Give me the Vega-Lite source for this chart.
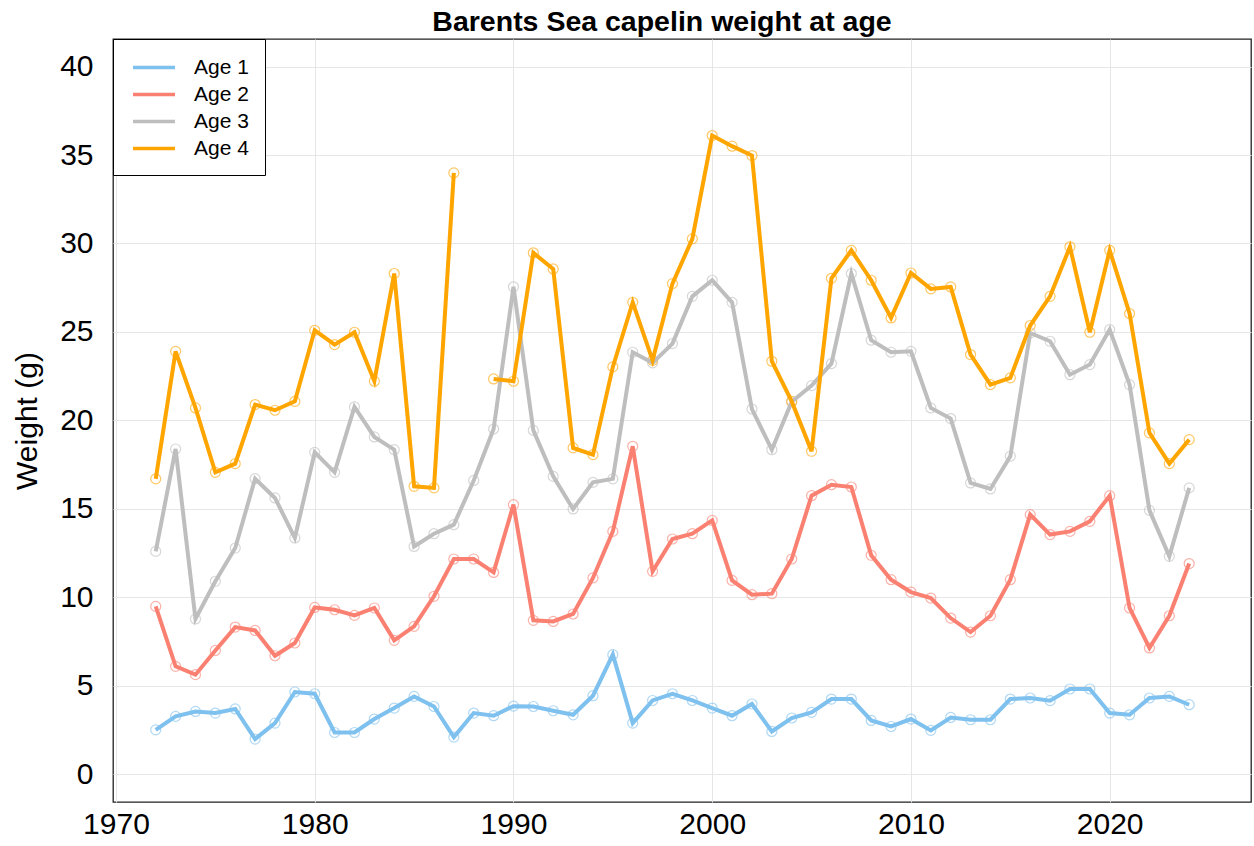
{
  "$schema": "https://vega.github.io/schema/vega-lite/v6.json",
  "width": 1138,
  "height": 763,
  "autosize": {"type": "none"},
  "padding": {"left": 113, "top": 39, "right": 3, "bottom": 44},
  "background": "white",
  "title": {
    "text": "Barents Sea capelin weight at age",
    "font": "Liberation Sans",
    "fontSize": 28.5,
    "fontWeight": "bold",
    "color": "black",
    "frame": "group",
    "offset": 2,
    "dx": -20
  },
  "config": {
    "view": {"stroke": "#222222", "strokeWidth": 1.3},
    "axis": {
      "labelFont": "Liberation Sans",
      "labelFontSize": 30,
      "labelColor": "black",
      "titleFont": "Liberation Sans",
      "titleFontSize": 30,
      "titleFontWeight": "normal",
      "titleColor": "black",
      "gridColor": "#e6e6e6",
      "gridWidth": 1,
      "ticks": false,
      "domain": false,
      "labelFlush": false
    },
    "legend": {"symbolOpacity": 1}
  },
  "data": {
    "values": [
      {"year": 1972, "Age 1": 2.50, "Age 2": 9.48, "Age 3": 12.59, "Age 4": 16.69},
      {"year": 1973, "Age 1": 3.26, "Age 2": 6.09, "Age 3": 18.38, "Age 4": 23.90},
      {"year": 1974, "Age 1": 3.54, "Age 2": 5.62, "Age 3": 8.77, "Age 4": 20.70},
      {"year": 1975, "Age 1": 3.45, "Age 2": 6.99, "Age 3": 10.90, "Age 4": 17.06},
      {"year": 1976, "Age 1": 3.68, "Age 2": 8.31, "Age 3": 12.78, "Age 4": 17.55},
      {"year": 1977, "Age 1": 1.98, "Age 2": 8.12, "Age 3": 16.70, "Age 4": 20.89},
      {"year": 1978, "Age 1": 2.88, "Age 2": 6.69, "Age 3": 15.61, "Age 4": 20.57},
      {"year": 1979, "Age 1": 4.64, "Age 2": 7.41, "Age 3": 13.35, "Age 4": 21.07},
      {"year": 1980, "Age 1": 4.54, "Age 2": 9.42, "Age 3": 18.19, "Age 4": 25.09},
      {"year": 1981, "Age 1": 2.35, "Age 2": 9.29, "Age 3": 17.06, "Age 4": 24.28},
      {"year": 1982, "Age 1": 2.35, "Age 2": 8.97, "Age 3": 20.76, "Age 4": 24.98},
      {"year": 1983, "Age 1": 3.11, "Age 2": 9.39, "Age 3": 19.06, "Age 4": 22.21},
      {"year": 1984, "Age 1": 3.73, "Age 2": 7.56, "Age 3": 18.34, "Age 4": 28.30},
      {"year": 1985, "Age 1": 4.39, "Age 2": 8.35, "Age 3": 12.87, "Age 4": 16.27},
      {"year": 1986, "Age 1": 3.82, "Age 2": 10.05, "Age 3": 13.59, "Age 4": 16.18},
      {"year": 1987, "Age 1": 2.09, "Age 2": 12.16, "Age 3": 14.10, "Age 4": 33.99},
      {"year": 1988, "Age 1": 3.45, "Age 2": 12.16, "Age 3": 16.60, "Age 4": null},
      {"year": 1989, "Age 1": 3.30, "Age 2": 11.40, "Age 3": 19.51, "Age 4": 22.34},
      {"year": 1990, "Age 1": 3.84, "Age 2": 15.23, "Age 3": 27.55, "Age 4": 22.21},
      {"year": 1991, "Age 1": 3.82, "Age 2": 8.69, "Age 3": 19.43, "Age 4": 29.47},
      {"year": 1992, "Age 1": 3.58, "Age 2": 8.63, "Age 3": 16.83, "Age 4": 28.56},
      {"year": 1993, "Age 1": 3.35, "Age 2": 9.05, "Age 3": 14.99, "Age 4": 18.44},
      {"year": 1994, "Age 1": 4.43, "Age 2": 11.09, "Age 3": 16.49, "Age 4": 18.06},
      {"year": 1995, "Age 1": 6.75, "Age 2": 13.72, "Age 3": 16.69, "Age 4": 23.02},
      {"year": 1996, "Age 1": 2.88, "Age 2": 18.53, "Age 3": 23.85, "Age 4": 26.67},
      {"year": 1997, "Age 1": 4.16, "Age 2": 11.46, "Age 3": 23.25, "Age 4": 23.39},
      {"year": 1998, "Age 1": 4.54, "Age 2": 13.29, "Age 3": 24.34, "Age 4": 27.73},
      {"year": 1999, "Age 1": 4.16, "Age 2": 13.59, "Age 3": 27.01, "Age 4": 30.26},
      {"year": 2000, "Age 1": 3.73, "Age 2": 14.34, "Age 3": 27.92, "Age 4": 36.10},
      {"year": 2001, "Age 1": 3.30, "Age 2": 10.95, "Age 3": 26.67, "Age 4": 35.50},
      {"year": 2002, "Age 1": 3.96, "Age 2": 10.14, "Age 3": 20.64, "Age 4": 34.97},
      {"year": 2003, "Age 1": 2.41, "Age 2": 10.20, "Age 3": 18.34, "Age 4": 23.34},
      {"year": 2004, "Age 1": 3.17, "Age 2": 12.16, "Age 3": 21.05, "Age 4": 21.07},
      {"year": 2005, "Age 1": 3.49, "Age 2": 15.74, "Age 3": 21.96, "Age 4": 18.25},
      {"year": 2006, "Age 1": 4.24, "Age 2": 16.36, "Age 3": 23.21, "Age 4": 28.03},
      {"year": 2007, "Age 1": 4.24, "Age 2": 16.23, "Age 3": 28.30, "Age 4": 29.61},
      {"year": 2008, "Age 1": 3.03, "Age 2": 12.37, "Age 3": 24.53, "Age 4": 27.92},
      {"year": 2009, "Age 1": 2.69, "Age 2": 10.99, "Age 3": 23.85, "Age 4": 25.79},
      {"year": 2010, "Age 1": 3.11, "Age 2": 10.29, "Age 3": 23.90, "Age 4": 28.33},
      {"year": 2011, "Age 1": 2.47, "Age 2": 9.95, "Age 3": 20.70, "Age 4": 27.43},
      {"year": 2012, "Age 1": 3.20, "Age 2": 8.82, "Age 3": 20.10, "Age 4": 27.54},
      {"year": 2013, "Age 1": 3.07, "Age 2": 8.03, "Age 3": 16.46, "Age 4": 23.72},
      {"year": 2014, "Age 1": 3.07, "Age 2": 8.95, "Age 3": 16.12, "Age 4": 22.02},
      {"year": 2015, "Age 1": 4.24, "Age 2": 10.99, "Age 3": 17.97, "Age 4": 22.40},
      {"year": 2016, "Age 1": 4.30, "Age 2": 14.67, "Age 3": 24.94, "Age 4": 25.36},
      {"year": 2017, "Age 1": 4.15, "Age 2": 13.54, "Age 3": 24.47, "Age 4": 27.01},
      {"year": 2018, "Age 1": 4.81, "Age 2": 13.72, "Age 3": 22.58, "Age 4": 29.81},
      {"year": 2019, "Age 1": 4.81, "Age 2": 14.29, "Age 3": 23.15, "Age 4": 24.98},
      {"year": 2020, "Age 1": 3.45, "Age 2": 15.74, "Age 3": 25.13, "Age 4": 29.61},
      {"year": 2021, "Age 1": 3.35, "Age 2": 9.39, "Age 3": 22.02, "Age 4": 26.04},
      {"year": 2022, "Age 1": 4.30, "Age 2": 7.13, "Age 3": 14.91, "Age 4": 19.29},
      {"year": 2023, "Age 1": 4.39, "Age 2": 8.95, "Age 3": 12.31, "Age 4": 17.55},
      {"year": 2024, "Age 1": 3.92, "Age 2": 11.90, "Age 3": 16.18, "Age 4": 18.91}
    ]
  },
  "transform": [
    {"fold": ["Age 1", "Age 2", "Age 3", "Age 4"], "as": ["age", "weight"]}
  ],
  "encoding": {
    "x": {
      "field": "year",
      "type": "quantitative",
      "scale": {"domain": [1969.85, 2027.11], "nice": false, "zero": false},
      "axis": {"values": [1970, 1980, 1990, 2000, 2010, 2020], "format": "d", "title": null, "labelPadding": 7}
    },
    "y": {
      "field": "weight",
      "type": "quantitative",
      "scale": {"domain": [-1.58, 41.56], "nice": false, "zero": false},
      "axis": {"values": [0, 5, 10, 15, 20, 25, 30, 35, 40], "title": "Weight (g)", "labelPadding": 20, "titlePadding": 17}
    },
    "color": {
      "field": "age",
      "type": "nominal",
      "scale": {"domain": ["Age 1", "Age 2", "Age 3", "Age 4"], "range": ["#7EC0EE", "#FA8072", "#BEBEBE", "#FFA500"]},
      "legend": {
        "title": null,
        "orient": "none",
        "legendX": 0,
        "legendY": 0,
        "fillColor": "white",
        "strokeColor": "black",
        "padding": 16,
        "symbolType": "M-2,0H2",
        "symbolSize": 441,
        "symbolStrokeWidth": 3.5,
        "symbolOffset": 12.5,
        "symbolOpacity": 1,
        "labelFont": "Liberation Sans",
        "labelFontSize": 21,
        "labelColor": "black",
        "labelOffset": 27.5,
        "rowPadding": 4
      }
    }
  },
  "layer": [
    {
      "mark": {"type": "point", "shape": "circle", "filled": false, "size": 100, "strokeWidth": 1.2, "opacity": 0.6}
    },
    {
      "mark": {"type": "line", "strokeWidth": 4, "invalid": "break-paths-show-domains"}
    }
  ]
}
